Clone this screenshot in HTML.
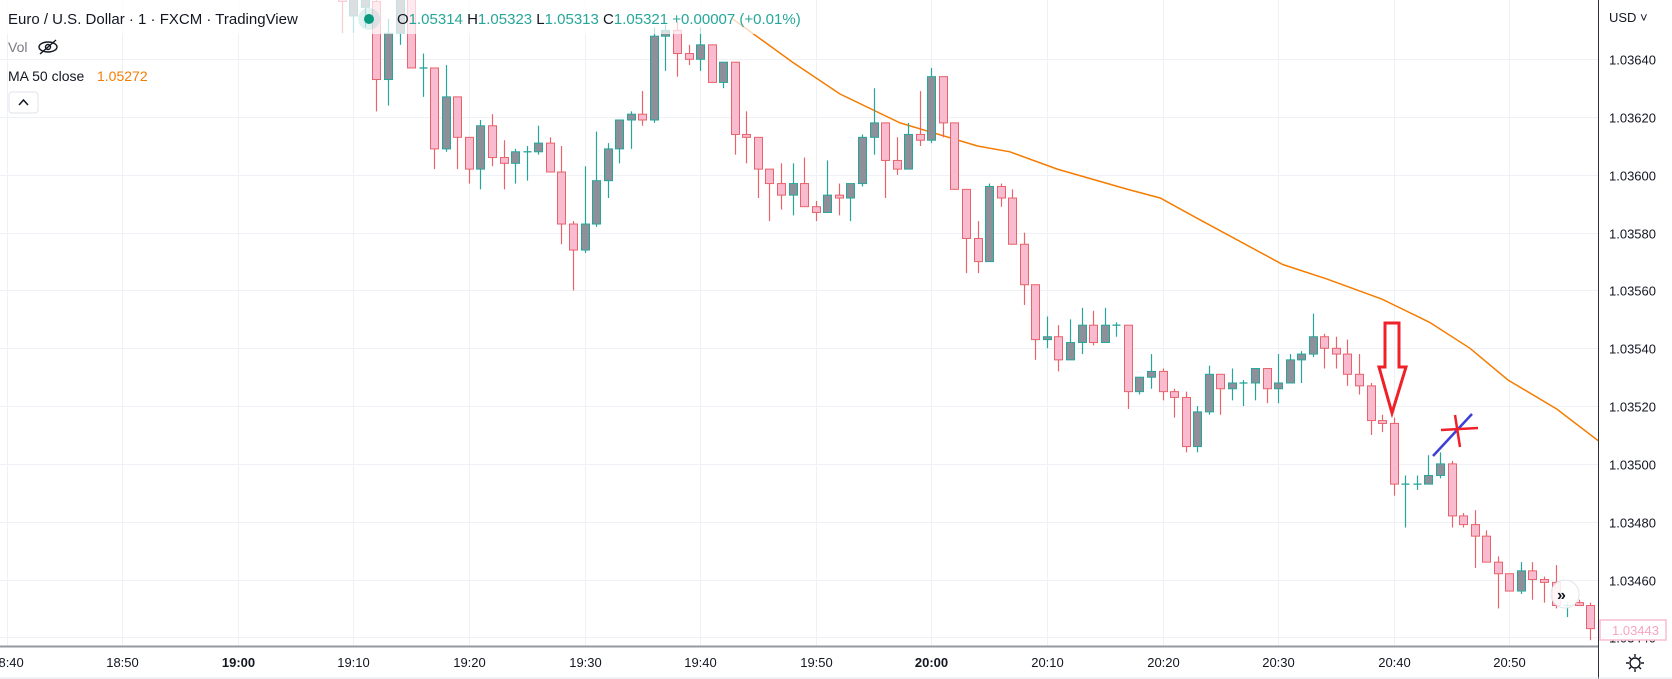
<!DOCTYPE html>
<html><head><meta charset="utf-8">
<style>
html,body{margin:0;padding:0;background:#fff;width:1672px;height:679px;overflow:hidden;font-family:"Liberation Sans",sans-serif;}
svg text{font-family:"Liberation Sans",sans-serif;}
</style></head>
<body>
<svg id="chart" width="1672" height="679" viewBox="0 0 1672 679" xmlns="http://www.w3.org/2000/svg">
  <rect x="0" y="0" width="1672" height="679" fill="#ffffff"/>
  <g id="grid"></g>
  <defs><clipPath id="plotclip"><rect x="0" y="0" width="1598" height="646"/></clipPath></defs>
  <g id="plot" clip-path="url(#plotclip)"></g>
  <g id="annot">
    <path d="M1385,323 L1399,323 L1399,367 L1406,367 L1392,413 L1379,367 L1385,367 Z" fill="none" stroke="#f0202a" stroke-width="3"/>
    <line x1="1433" y1="456" x2="1472" y2="414" stroke="#3b3fd6" stroke-width="2.5"/>
    <line x1="1441" y1="430" x2="1478" y2="428" stroke="#f0202a" stroke-width="2.5"/>
    <line x1="1455" y1="415" x2="1460" y2="447" stroke="#f0202a" stroke-width="2.5"/>
  </g>
  <!-- legend -->
  <rect x="0" y="0" width="800" height="34" fill="#ffffff" fill-opacity="0.7"/>
  <text x="8" y="24" font-size="15" fill="#131722">Euro / U.S. Dollar · 1 · FXCM · TradingView</text>
  <circle cx="369" cy="19" r="11" fill="#26a69a" fill-opacity="0.15"/>
  <circle cx="369" cy="19" r="5" fill="#089981"/>
  <text x="397" y="24" font-size="15"><tspan fill="#131722">O</tspan><tspan fill="#26a69a">1.05314 </tspan><tspan fill="#131722">H</tspan><tspan fill="#26a69a">1.05323 </tspan><tspan fill="#131722">L</tspan><tspan fill="#26a69a">1.05313 </tspan><tspan fill="#131722">C</tspan><tspan fill="#26a69a">1.05321 +0.00007 (+0.01%)</tspan></text>
  <text x="8" y="52" font-size="14" fill="#787b86">Vol</text>
  <g stroke="#131722" stroke-width="1.4" fill="none">
    <ellipse cx="48" cy="47" rx="9" ry="5"/><circle cx="48" cy="47" r="2.5"/><line x1="40" y1="54" x2="56" y2="40"/>
  </g>
  <text x="8" y="81" font-size="14" fill="#131722">MA 50 close</text>
  <text x="97" y="81" font-size="14" fill="#f57c00">1.05272</text>
  <rect x="9" y="92" width="29" height="21" rx="3" fill="#fff" stroke="#e0e3eb"/>
  <path d="M19,105 L23.5,100 L28,105" stroke="#131722" stroke-width="1.5" fill="none"/>
  <!-- axes -->
  <rect x="1599" y="0" width="73" height="679" fill="#ffffff"/>
  <line x1="1598.5" y1="0" x2="1598.5" y2="679" stroke="#2a2e39" stroke-width="1"/>
  <line x1="0" y1="646.5" x2="1598" y2="646.5" stroke="#9598a1" stroke-width="2"/>
  <line x1="0" y1="678" x2="1672" y2="678" stroke="#e0e3eb"/>
  <text x="1609" y="22" font-size="13" fill="#131722">USD ˅</text>
  <g id="yticks"></g>
  <g id="xticks"></g>
  <rect x="1600" y="620" width="66" height="20" fill="#fff" stroke="#f8bbd0" stroke-width="1.5"/>
  <text x="1612" y="635" font-size="13" fill="#f8a5c0">1.03443</text>
  <g stroke="#131722" stroke-width="1.4" fill="none">
    <circle cx="1635" cy="663" r="5"/>
    <path d="M1635,654 V657 M1635,669 V672 M1626,663 H1629 M1641,663 H1644 M1629,657 L1631,659 M1639,667 L1641,669 M1641,657 L1639,659 M1631,667 L1629,669"/>
  </g>
  <circle cx="1565" cy="594" r="14" fill="#ffffff" fill-opacity="0.85" stroke="#e0e3eb"/>
  <text x="1557" y="600" font-size="16" font-weight="bold" fill="#131722">»</text>
</svg>
<script>
const startMinute = -1; // minutes relative to 19:10
const opens  = [1.03665,1.03655,1.03658,1.0366,1.03633,1.03649,1.03665,1.03637,1.03637,1.03609,1.03627,1.03613,1.03602,1.03617,1.03606,1.03604,1.03608,1.03608,1.03611,1.03601,1.03583,1.03574,1.03583,1.03598,1.03609,1.03619,1.03621,1.03619,1.03648,1.0365,1.03642,1.0364,1.03645,1.03632,1.03639,1.03614,1.03613,1.03602,1.03597,1.03593,1.03597,1.03589,1.03587,1.03593,1.03592,1.03597,1.03613,1.03618,1.03605,1.03602,1.03614,1.03612,1.03634,1.03618,1.03595,1.03578,1.0357,1.03596,1.03592,1.03576,1.03562,1.03543,1.03544,1.03536,1.03542,1.03548,1.03542,1.03548,1.03548,1.03525,1.0353,1.03532,1.03525,1.03523,1.03506,1.03518,1.03531,1.03526,1.03528,1.03528,1.03533,1.03526,1.03528,1.03536,1.03538,1.03544,1.0354,1.03538,1.03531,1.03527,1.03515,1.03514,1.03493,1.03493,1.03493,1.03496,1.035,1.03482,1.03479,1.03475,1.03466,1.03462,1.03456,1.03463,1.0346,1.03459,1.03451,1.03452,1.03451];
const highs  = [1.0368,1.0368,1.0368,1.03672,1.03654,1.03672,1.03668,1.03642,1.03637,1.03638,1.03627,1.03613,1.03619,1.03621,1.03612,1.03609,1.0361,1.03617,1.03613,1.0361,1.03584,1.03603,1.03615,1.03611,1.03619,1.03622,1.03629,1.03651,1.03652,1.03653,1.03645,1.03651,1.03645,1.03639,1.03639,1.03622,1.03613,1.03602,1.03604,1.03604,1.03606,1.03591,1.03605,1.03597,1.03597,1.03614,1.0363,1.03618,1.03613,1.03618,1.03629,1.03637,1.03634,1.03618,1.03595,1.03584,1.03597,1.03597,1.03595,1.0358,1.03562,1.03551,1.03548,1.0355,1.03554,1.03553,1.03554,1.03549,1.03548,1.0353,1.03538,1.03533,1.03526,1.03525,1.0352,1.03534,1.03531,1.03533,1.03529,1.03533,1.03533,1.03538,1.03538,1.03539,1.03552,1.03545,1.03544,1.03543,1.03538,1.03528,1.03517,1.03516,1.03496,1.03496,1.03503,1.03504,1.03501,1.03483,1.03484,1.03477,1.03468,1.03462,1.03466,1.03466,1.03461,1.03465,1.03452,1.03453,1.03452];
const lows   = [1.03649,1.03649,1.03651,1.03622,1.03624,1.03645,1.03637,1.03627,1.03602,1.03608,1.03602,1.03597,1.03595,1.03603,1.03595,1.03597,1.03598,1.03607,1.03601,1.03576,1.0356,1.03573,1.03582,1.03592,1.03604,1.03609,1.03617,1.03618,1.03636,1.03634,1.03638,1.03636,1.03632,1.0363,1.03607,1.03604,1.03592,1.03584,1.03588,1.03586,1.03589,1.03584,1.03587,1.03586,1.03584,1.03596,1.03607,1.03592,1.036,1.03602,1.0361,1.03611,1.03613,1.03595,1.03566,1.03566,1.0357,1.03589,1.03576,1.03555,1.03536,1.0354,1.03532,1.03536,1.03538,1.03541,1.03542,1.03544,1.03519,1.03524,1.03526,1.03522,1.03516,1.03504,1.03504,1.03517,1.03517,1.03522,1.0352,1.03522,1.03521,1.03521,1.03528,1.03528,1.03537,1.03533,1.03533,1.03527,1.03524,1.0351,1.03511,1.03489,1.03478,1.03491,1.03493,1.03495,1.03478,1.03478,1.03464,1.03466,1.0345,1.03456,1.03455,1.03453,1.03452,1.0345,1.03447,1.03451,1.03439];
const closes = [1.0366,1.0367,1.03672,1.03633,1.03649,1.03665,1.03637,1.03637,1.03609,1.03627,1.03613,1.03602,1.03617,1.03606,1.03604,1.03608,1.03608,1.03611,1.03601,1.03583,1.03574,1.03583,1.03598,1.03609,1.03619,1.03621,1.03619,1.03648,1.0365,1.03642,1.0364,1.03645,1.03632,1.03639,1.03614,1.03613,1.03602,1.03597,1.03593,1.03597,1.03589,1.03587,1.03593,1.03592,1.03597,1.03613,1.03618,1.03605,1.03602,1.03614,1.03612,1.03634,1.03618,1.03595,1.03578,1.0357,1.03596,1.03592,1.03576,1.03562,1.03543,1.03544,1.03536,1.03542,1.03548,1.03542,1.03548,1.03548,1.03525,1.0353,1.03532,1.03525,1.03523,1.03506,1.03518,1.03531,1.03526,1.03528,1.03528,1.03533,1.03526,1.03528,1.03536,1.03538,1.03544,1.0354,1.03538,1.03531,1.03527,1.03515,1.03514,1.03493,1.03493,1.03493,1.03496,1.035,1.03482,1.03479,1.03475,1.03466,1.03462,1.03456,1.03463,1.0346,1.03459,1.03451,1.03451,1.03451,1.03443];
const maMinutes = [32.8,38,42.1,47.3,54,56.8,60.9,67,69.8,73,80.4,84.2,89,93.1,96.6,99.9,104.1,107.7];
const maValues  = [1.03654,1.03639,1.03628,1.03618,1.0361,1.03608,1.03602,1.03595,1.03592,1.03585,1.03569,1.03564,1.03557,1.03549,1.0354,1.03529,1.03519,1.03508];
const priceTicks = [1.0364,1.0362,1.036,1.0358,1.0356,1.0354,1.0352,1.035,1.0348,1.0346,1.0344];
const timeTickMinutes = [-30,-20,-10,0,10,20,30,40,50,60,70,80,90,100];
const timeTickLabels = ["18:40","18:50","19:00","19:10","19:20","19:30","19:40","19:50","20:00","20:10","20:20","20:30","20:40","20:50"];
const boldTicks = ["19:00","20:00"];

const NS="http://www.w3.org/2000/svg";
function xScale(m){return 353.3 + m*11.56;}
function yScale(p){return 59.3 + (1.0364 - p)/0.0002*57.8;}
function mk(tag, attrs, parent){const e=document.createElementNS(NS,tag);for(const k in attrs)e.setAttribute(k,attrs[k]);parent.appendChild(e);return e;}

const grid=document.getElementById('grid');
const yt=document.getElementById('yticks');
priceTicks.forEach(p=>{
  const y=Math.round(yScale(p))+0.5;
  const l=mk('line',{x1:0,x2:1598,y1:y,y2:y,stroke:'#eef1f6','stroke-width':1},grid);
  
  
  const t=mk('text',{x:1609,y:y+5,'font-size':13,fill:'#131722'},yt);
  t.textContent=p.toFixed(5);
  
  
});
const xt=document.getElementById('xticks');
timeTickMinutes.forEach((m,i)=>{
  const x=Math.round(xScale(m))+0.5;
  const l=mk('line',{x1:x,x2:x,y1:0,y2:646,stroke:'#eef1f6','stroke-width':1},grid);
  
  
  const lab=timeTickLabels[i];
  const t=mk('text',{x:x,y:667,'font-size':13,'text-anchor':'middle',fill:'#131722','font-weight':boldTicks.includes(lab)?'bold':'normal'},xt);
  t.textContent=lab;
  
  
});

const plot=document.getElementById('plot');
// moving average
let d='';
maMinutes.forEach((m,i)=>{d+=(i?'L':'M')+xScale(m).toFixed(1)+','+yScale(maValues[i]).toFixed(1)+' ';});
const ma=mk('path',{d:d,fill:'none',stroke:'#f57c00','stroke-width':1.5},plot);



opens.forEach((o,i)=>{
  const m=startMinute+i, c=closes[i], h=highs[i], lo=lows[i];
  const x=Math.round(xScale(m));
  const bull=c>=o;
  const doji=c===o;
  const edge=bull?'#26a69a':'#e8636b';
  const g=mk('g',{},plot);
  
  
  const w=mk('line',{x1:x+0.5,x2:x+0.5,y1:yScale(h),y2:yScale(lo),stroke:edge,'stroke-width':1.2},g);
  
  
  const top=yScale(Math.max(o,c)), bot=yScale(Math.min(o,c));
  if(doji){
    const b=mk('line',{x1:x-3.5,x2:x+4.5,y1:top,y2:top,stroke:edge,'stroke-width':1.3},g);
    
    
  } else {
    const b=mk('rect',{x:x-3.5,y:top,width:8,height:Math.max(bot-top,1.5),fill:bull?'#8e9099':'#f8bbd0',stroke:edge,'stroke-width':1},g);
    
    
  }
});
</script>
</body></html>
